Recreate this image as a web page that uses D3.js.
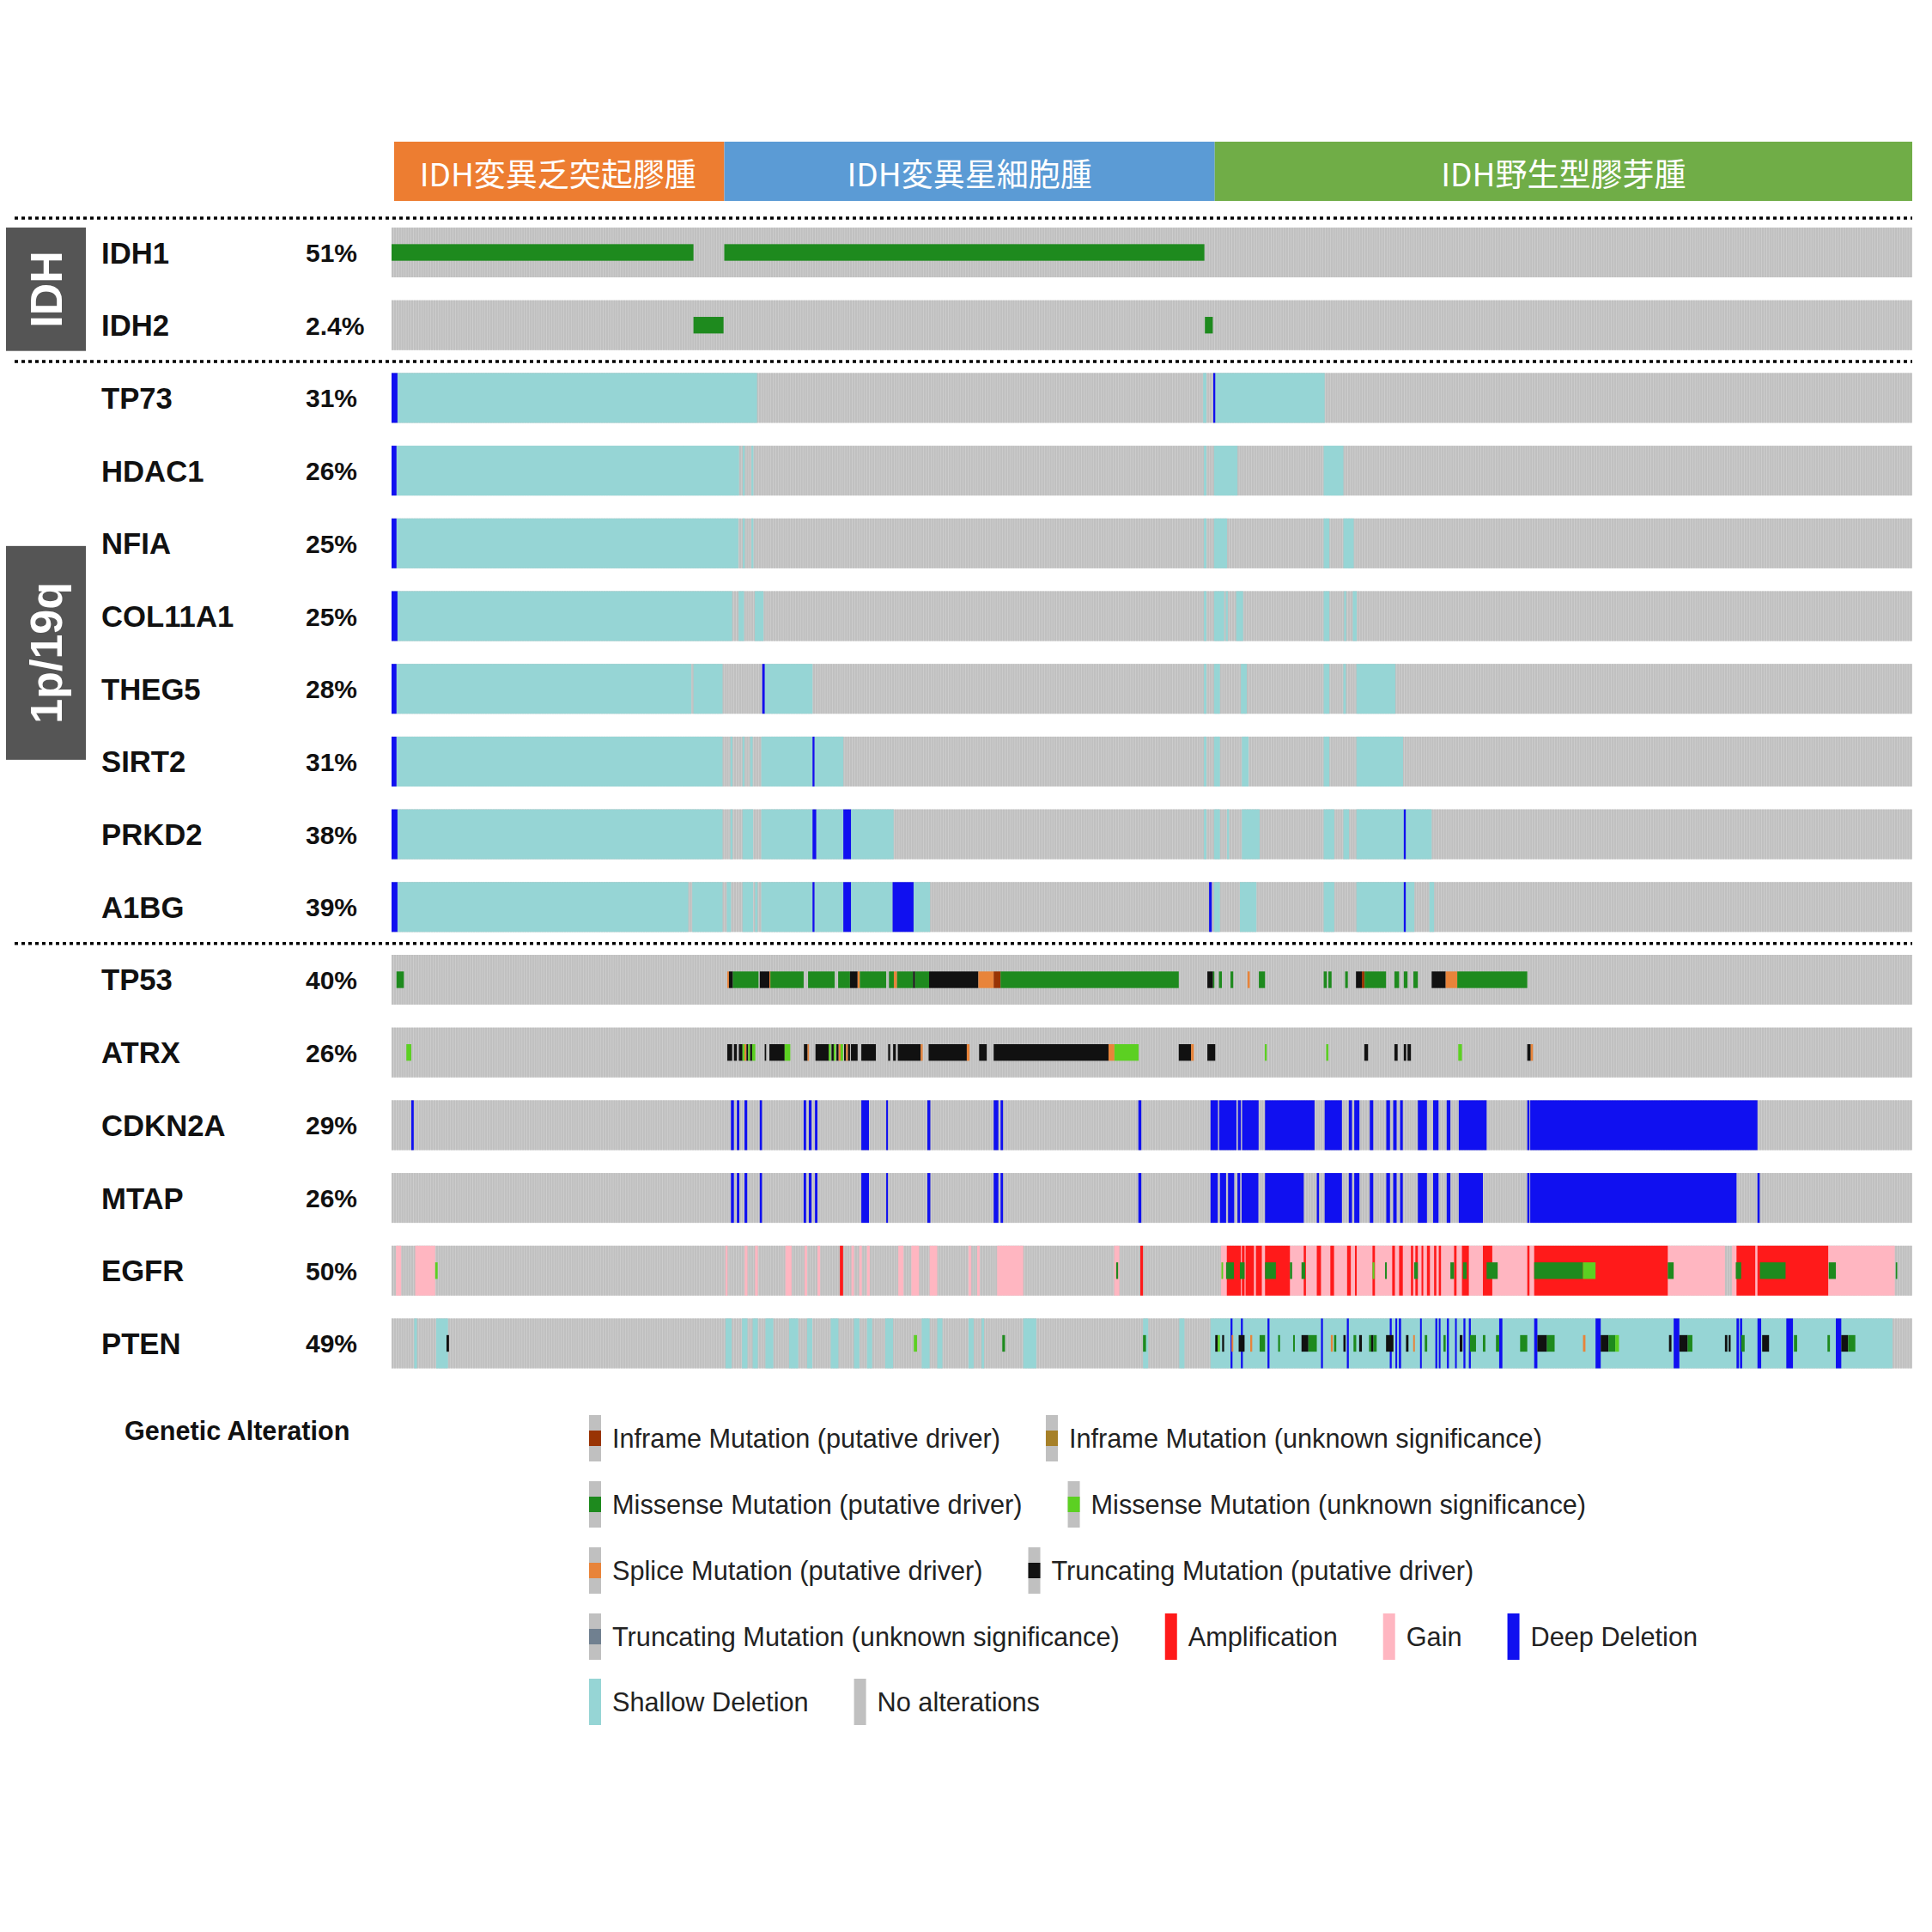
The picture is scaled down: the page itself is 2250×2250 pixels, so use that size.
<!DOCTYPE html>
<html><head><meta charset="utf-8">
<script src="https://cdn.jsdelivr.net/npm/d3@7"></script>
<style>body{margin:0;background:#fff}</style>
</head><body>
<svg id="chart" width="2250" height="2250"></svg>
<script>
// ---------------- DATA ----------------
const nSamples = 617;
const groupNames = ['IDH変異乏突起膠腫', 'IDH変異星細胞腫', 'IDH野生型膠芽腫'];
const groupStarts = [0, 135, 334];
const groupEnds = [135, 334, 617];

const genes = ['IDH1','IDH2','TP73','HDAC1','NFIA','COL11A1','THEG5','SIRT2','PRKD2','A1BG','TP53','ATRX','CDKN2A','MTAP','EGFR','PTEN'];
const pctLabels = ['51%','2.4%','31%','26%','25%','25%','28%','31%','38%','39%','40%','26%','29%','26%','50%','49%'];

const sectionNames = ['IDH', '1p/19q', ''];
const sectionFirst = ['IDH1', 'TP73', 'TP53'];
const sectionLast = ['IDH2', 'A1BG', 'PTEN'];

// alteration segments: [firstSample, endSample, type]
const altIDH1 = [[0,122.5,'mis'],[135,329.8,'mis']];
const altIDH2 = [[122.5,134.7,'mis'],[330,333.2,'mis']];
const altTP73 = [[0,2.4,'deep'],[2.4,148.3,'shal'],[329.3,330.6,'shal'],[333.4,334.2,'deep'],[334.2,378.6,'shal']];
const altHDAC1 = [[0,2,'deep'],[2,141,'shal'],[142.5,143.3,'shal'],[146,146.8,'shal'],[329.6,330.6,'shal'],[333.7,343.2,'shal'],[378.2,386.2,'shal']];
const altNFIA = [[0,2,'deep'],[2,140.7,'shal'],[142.5,143.3,'shal'],[146,146.8,'shal'],[329.6,330.6,'shal'],[333.7,339,'shal'],[378.2,380.5,'shal'],[386.2,390.4,'shal']];
const altCOL11A1 = [[0,2.4,'deep'],[2.4,138.2,'shal'],[140.8,143,'shal'],[147.4,150.9,'shal'],[329.6,330.6,'shal'],[333.7,337.8,'shal'],[338.5,339.3,'shal'],[342.7,345.5,'shal'],[378.2,380.5,'shal'],[386.5,387.3,'shal'],[390,391.6,'shal']];
const altTHEG5 = [[0,2,'deep'],[2,121.6,'shal'],[122.5,134.3,'shal'],[150.4,151.4,'deep'],[151.4,170.8,'shal'],[329.6,330.6,'shal'],[333.7,336.1,'shal'],[344.6,347,'shal'],[378.2,380.5,'shal'],[386.2,387.2,'shal'],[391.5,407.3,'shal']];
const altSIRT2 = [[0,2,'deep'],[2,134.3,'shal'],[137.5,138.3,'shal'],[142.4,143.2,'shal'],[145.5,146.5,'shal'],[150,170.8,'shal'],[170.8,171.6,'deep'],[171.6,183.3,'shal'],[329.6,330.6,'shal'],[333.7,336.1,'shal'],[345,347.7,'shal'],[378.2,380.5,'shal'],[391.5,410.4,'shal']];
const altPRKD2 = [[0,2.4,'deep'],[2.4,134.3,'shal'],[137.5,138.3,'shal'],[142.4,146.7,'shal'],[150,170.8,'shal'],[170.8,172.3,'deep'],[172.3,183.3,'shal'],[183.3,186.4,'deep'],[186.4,203.7,'shal'],[329.6,330.6,'shal'],[333.7,336.1,'shal'],[339,339.8,'shal'],[345,352.2,'shal'],[378.2,382.5,'shal'],[386.2,388.5,'shal'],[391.5,410.7,'shal'],[410.7,411.5,'deep'],[411.5,422,'shal']];
const altA1BG = [[0,2.4,'deep'],[2.4,120.4,'shal'],[122,134.3,'shal'],[136,137.7,'shal'],[142.4,146.7,'shal'],[147.5,148.5,'shal'],[150,170.8,'shal'],[170.8,171.6,'deep'],[171.6,183.3,'shal'],[183.3,186.4,'deep'],[186.4,203.3,'shal'],[203.3,211.8,'deep'],[211.8,218.5,'shal'],[331.7,332.8,'deep'],[333.7,336.1,'shal'],[344.2,350.9,'shal'],[378.2,382.5,'shal'],[391.5,410.7,'shal'],[410.7,411.5,'deep'],[411.5,415,'shal'],[421.1,423,'shal']];
const altTP53 = [[2,5,'mis'],
 [136.2,136.9,'spl'],[136.9,138.5,'trc'],[138.5,148.9,'mis'],[149.4,153.3,'trc'],[153.3,153.7,'spl'],[153.7,167.2,'mis'],[169,179.8,'mis'],[181.2,186,'mis'],[186,189.1,'trc'],[189.1,190,'spl'],[190,200.7,'mis'],[201.8,203.8,'mis'],[203.8,205.1,'spl'],[205.1,211.6,'mis'],[211.6,212.4,'trc'],[212.4,218.1,'mis'],[218.1,238.1,'trc'],[238.1,244.3,'spl'],[244.3,247.1,'inf'],[247.1,319.4,'mis'],
 [331,333.3,'trc'],[333.3,333.8,'mis'],[335.7,336.9,'mis'],[340.4,341.5,'mis'],[347.3,348.2,'spl'],[351.9,354.4,'mis'],
 [378.2,379.5,'mis'],[380.1,381.4,'mis'],[386.9,388,'mis'],[391.3,393.7,'trc'],[393.7,394.8,'inf'],[394.8,403.5,'mis'],[406.9,408.8,'mis'],[410.7,412.2,'mis'],[414.6,416.4,'mis'],[422,427.7,'trc'],[427.7,432.4,'spl'],[432.4,460.8,'mis']];
const altATRX = [[6,8,'misU'],
 [136.2,138.2,'trc'],[138.9,140.1,'trc'],[140.9,142.4,'trc'],[142.4,143.2,'misU'],[143.2,144,'spl'],[144,144.7,'trc'],[144.7,145.5,'misU'],[145.5,146.3,'trc'],[146.3,147.6,'misU'],
 [151.4,152,'trc'],[153.3,159.5,'trc'],[159.5,161.8,'misU'],[167.3,168.8,'trc'],[168.8,169.3,'spl'],
 [172,177.4,'trc'],[177.4,178.2,'misU'],[178.5,179.4,'trc'],[179.4,180.2,'misU'],[180.5,181.4,'trc'],[181.4,182.2,'spl'],[182.2,183.2,'misU'],[183.6,184.4,'trc'],[184.4,185.2,'spl'],[185.2,186,'trc'],[186.4,189.1,'trc'],
 [190.6,196.5,'trc'],[201.5,202.3,'trc'],[203.5,204.6,'trc'],[205.4,214.7,'trc'],[214.7,215.5,'spl'],
 [217.9,233.4,'trc'],[233.4,234.5,'spl'],[238.4,241.5,'trc'],[244.3,290.9,'trc'],[290.9,293.3,'spl'],[293.3,303.1,'misU'],
 [319.4,324.4,'trc'],[324.4,325.5,'spl'],[331,334.2,'trc'],[354.3,355.1,'misU'],
 [379.2,380.1,'misU'],[394.7,396.2,'trc'],[406.9,408.2,'trc'],[410.7,411.7,'trc'],[412.2,413.6,'trc'],[432.8,434.3,'misU'],[460.8,462.2,'trc'],[462.2,463.1,'spl']];
const altCDKN2A = [[8,9,'deep'],
 [137.7,138.9,'deep'],[140.1,141.1,'deep'],[143.2,144.3,'deep'],[149.4,150.3,'deep'],[167.2,168.2,'deep'],[169.3,170.4,'deep'],[171.8,172.8,'deep'],[190.6,193.7,'deep'],[200.7,201.4,'deep'],[217.4,218.6,'deep'],[244.3,246.2,'deep'],[247.1,248.1,'deep'],[303,304.2,'deep'],
 [332.3,335.3,'deep'],[335.8,342.8,'deep'],[343.4,344.6,'deep'],[345.1,351.8,'deep'],[354.4,374.5,'deep'],[378.6,385.6,'deep'],[388.4,389.7,'deep'],[390.6,392.7,'deep'],[396.9,398.3,'deep'],[403.6,405.1,'deep'],[406.4,407.8,'deep'],[409.2,410.3,'deep'],[416.4,420.1,'deep'],[422.6,424.8,'deep'],[428.1,429.6,'deep'],[433,444.3,'deep'],[460.8,461.7,'deep'],[462,554.2,'deep']];
const altMTAP = [
 [137.7,138.9,'deep'],[140.1,141.1,'deep'],[143.2,144.3,'deep'],[149.4,150.3,'deep'],[167.2,168.2,'deep'],[169.3,170.4,'deep'],[171.8,172.8,'deep'],[190.6,193.7,'deep'],[200.7,201.4,'deep'],[217.4,218.6,'deep'],[244.3,246.2,'deep'],[247.1,248.1,'deep'],[303,304.2,'deep'],
 [332.3,335.2,'deep'],[336.1,338.6,'deep'],[339.4,341.9,'deep'],[343.2,344.3,'deep'],[344.9,351.7,'deep'],[354.4,370.1,'deep'],[375.4,376.3,'deep'],[378.6,385.6,'deep'],[388.4,389.7,'deep'],[390.6,392.7,'deep'],[396.9,398.3,'deep'],[403.6,405.1,'deep'],[406.4,407.8,'deep'],[409.2,410.3,'deep'],[416.4,420.1,'deep'],[422.6,424.8,'deep'],[428.1,429.6,'deep'],[433,442.8,'deep'],[460.8,461.7,'deep'],[462,545.7,'deep'],[554.2,555.1,'deep']];
const altEGFR = [[1.8,3.9,'gain'],[9.6,17.7,'gain'],
 [135.5,136.3,'gain'],[143.3,144.4,'gain'],[147.5,148.6,'gain'],[159.8,162.3,'gain'],[167.6,168.6,'gain'],[172.8,173.9,'gain'],[181.9,183.2,'amp'],[186.6,187.6,'gain'],[189.8,190.8,'gain'],[192.9,194,'gain'],[205.6,207.7,'gain'],[210.9,214,'gain'],[218.3,221.4,'gain'],[234.1,235.2,'gain'],[237.6,238.6,'gain'],[245.7,256.3,'gain'],[293.2,295.3,'gain'],[303.8,304.9,'amp'],
 [336.5,541,'gain'],[543.8,609.9,'gain'],
 [338.9,344.6,'amp'],[345,346.1,'amp'],[346.5,349.9,'amp'],[350.7,353.1,'amp'],[354.4,364.5,'amp'],[370.1,371,'amp'],[375.4,377.1,'amp'],[380.9,382.4,'amp'],[387.7,389.2,'amp'],[390.9,391.6,'amp'],[398,399,'amp'],[406,407.1,'amp'],[408.8,410.3,'amp'],[413.6,414.5,'amp'],[415.4,416.4,'amp'],[417.9,418.6,'amp'],[420.1,421.3,'amp'],[423,423.9,'amp'],[424.9,425.8,'amp'],[431.1,432.1,'amp'],[434.3,437.1,'amp'],[442.8,446.6,'amp'],[460.8,461.7,'amp'],[463.6,517.8,'amp'],[545.7,553.3,'amp'],[554.2,582.9,'amp'],
 [17.7,18.7,'misU'],[294,294.8,'mis'],
 [336.7,337.4,'misU'],[338.6,341.8,'mis'],[344.2,346.1,'mis'],[354.4,358.8,'mis'],[364.5,365.4,'mis'],[369.2,370.7,'mis'],[398,398.8,'misU'],[403.1,403.8,'mis'],[414.9,416.4,'mis'],[429.6,431.1,'mis'],[434.7,436.2,'mis'],[444.3,448.8,'mis'],[463.6,483.4,'mis'],[483.4,488.5,'misU'],[517.8,520.2,'mis'],[545.4,547.6,'mis'],[555.2,565.6,'mis'],[583.1,586,'mis'],[610.3,610.9,'mis']];
const altPTEN = [[9.2,10.3,'shal'],[18.1,22.9,'shal'],[22.3,23.3,'trc'],
 [135.5,138,'shal'],[142.2,144.4,'shal'],[146.5,148.6,'shal'],[151.7,154.9,'shal'],[161.3,165,'shal'],[168.6,170.7,'shal'],[178.2,181.3,'shal'],[187.6,189.8,'shal'],[192.9,195,'shal'],[200.3,203.5,'shal'],[215.1,218.3,'shal'],[221.4,223.5,'shal'],[234.1,236.2,'shal'],[239.4,240.4,'shal'],[256.3,261.6,'shal'],[304.9,307,'shal'],[319.6,321.7,'shal'],
 [211.9,213.2,'misU'],[247.8,248.9,'mis'],[304.9,306.1,'mis'],
 [332.3,609,'shal'],
 [340.4,341.2,'deep'],[344.6,345.4,'deep'],[355.4,356.2,'deep'],[377.1,377.9,'deep'],[387.6,388.4,'deep'],[405,405.8,'deep'],[407.3,408,'deep'],[408.7,409.6,'deep'],[417.3,418,'deep'],[423.5,424.3,'deep'],[424.9,425.6,'deep'],[428.2,429,'deep'],[431.5,432.2,'deep'],[434.9,435.7,'deep'],[437.1,437.9,'deep'],[449.4,450.7,'deep'],[463.6,464.9,'deep'],[488.5,490.6,'deep'],[520.2,522.5,'deep'],[545.7,546.7,'deep'],[547.1,548,'deep'],[554.2,555.7,'deep'],[565.9,568.6,'deep'],[586,588.2,'deep'],
 [334.2,335.2,'trc'],[335.2,336.1,'misU'],[337,337.8,'trc'],[340.8,341.5,'spl'],[343.7,346.1,'trc'],[348.4,349.2,'spl'],[352.2,354.4,'mis'],[359.7,360.5,'mis'],[365.8,366.5,'mis'],[369.2,372,'trc'],[372,375.4,'mis'],[381.1,381.9,'spl'],[382.4,383.3,'mis'],[386.2,387.1,'trc'],[390.3,391.4,'mis'],[392.6,393.7,'trc'],[396.6,397.5,'mis'],[397.5,398.4,'trc'],[398.4,399.7,'mis'],[403.5,406.5,'trc'],[411.6,412.6,'trc'],[414.5,415.2,'spl'],[419.2,420.2,'mis'],[426.8,427.7,'mis'],[433.4,434.5,'trc'],[437.5,440,'mis'],[442.8,443.8,'mis'],[448.1,449.4,'mis'],[457.9,460.8,'mis'],[464.9,468.8,'trc'],[468.8,471.9,'mis'],[483.4,484.4,'spl'],[490.6,493.8,'trc'],[493.8,496.5,'mis'],[496.5,498,'misU'],[518.3,519.3,'trc'],[522.5,525.9,'trc'],[525.9,527.8,'mis'],[541,542,'trc'],[542.5,543.3,'trc'],[547.6,549,'mis'],[556.1,558.9,'trc'],[569,570.3,'mis'],[582.6,583.6,'mis'],[588.2,591,'trc'],[591,593.9,'mis']];

const legendKeys = ['inf','infU','mis','misU','spl','trc','trcU','amp','gain','deep','shal','none'];
const legendLabels = ['Inframe Mutation (putative driver)','Inframe Mutation (unknown significance)','Missense Mutation (putative driver)','Missense Mutation (unknown significance)','Splice Mutation (putative driver)','Truncating Mutation (putative driver)','Truncating Mutation (unknown significance)','Amplification','Gain','Deep Deletion','Shallow Deletion','No alterations'];
const legendTitle = 'Genetic Alteration';

// ---------------- STYLE / LAYOUT ----------------
const geneAlts = [altIDH1, altIDH2, altTP73, altHDAC1, altNFIA, altCOL11A1, altTHEG5, altSIRT2, altPRKD2, altA1BG, altTP53, altATRX, altCDKN2A, altMTAP, altEGFR, altPTEN];
const colors = {none:'#C0C0C0', shal:'#96D5D5', deep:'#1010F0', amp:'#FF1A1A', gain:'#FFB6C1',
  mis:'#1E8A1E', misU:'#5CD022', inf:'#993404', infU:'#A68028', spl:'#E8843A', trc:'#111111', trcU:'#708090'};
const groupColors = ['#ED7D31', '#5B9BD5', '#70AD47'];
const cnaTypes = new Set(['shal','deep','amp','gain','none']);

const svg = d3.select('#chart');
const x = d3.scaleLinear().domain([0, nSamples]).range([456, 2227]);
const y = d3.scaleBand().domain(genes).range([265, 1593.5]).paddingInner(0.3152).paddingOuter(0);
const bw = y.bandwidth();
const step = x(1) - x(0);

// header bars
const hdr = svg.append('g');
groupNames.forEach((g, i) => {
  hdr.append('rect').attr('x', x(groupStarts[i]) + (i === 0 ? 3 : 0)).attr('y', 165)
    .attr('width', x(groupEnds[i]) - x(groupStarts[i]) - (i === 0 ? 3 : 0)).attr('height', 69)
    .attr('fill', groupColors[i]);
  hdr.append('text').attr('x', (x(groupStarts[i]) + x(groupEnds[i])) / 2).attr('y', 201)
    .attr('text-anchor', 'middle').attr('dominant-baseline', 'central')
    .attr('font-family', '"Noto Sans CJK JP", "Noto Sans CJK TC", sans-serif')
    .attr('font-size', 37).attr('fill', '#fff').text(g);
});

// tracks
const tracks = svg.append('g');
genes.forEach((gene, gi) => {
  const top = y(gene);
  const row = tracks.append('g');
  row.append('rect').attr('x', x(0)).attr('y', top).attr('width', x(nSamples) - x(0)).attr('height', bw).attr('fill', '#D4D4D4');
  row.selectAll('rect.s').data(d3.range(nSamples)).join('rect').attr('class', 's')
    .attr('x', d => x(d)).attr('y', top).attr('width', step * 0.8).attr('height', bw).attr('fill', colors.none);
  const segs = geneAlts[gi];
  const cna = segs.filter(s => cnaTypes.has(s[2]));
  const muts = segs.filter(s => !cnaTypes.has(s[2]));
  // gains/shallow first, then amp/deep on top
  const order = {gain:0, shal:0, amp:1, deep:1};
  cna.sort((a, b) => order[a[2]] - order[b[2]]);
  row.selectAll('rect.c').data(cna).join('rect').attr('class', 'c')
    .attr('x', d => x(d[0])).attr('y', top).attr('width', d => Math.max(1.6, x(d[1]) - x(d[0])))
    .attr('height', bw).attr('fill', d => colors[d[2]]);
  row.selectAll('rect.m').data(muts).join('rect').attr('class', 'm')
    .attr('x', d => x(d[0])).attr('y', top + bw / 3).attr('width', d => Math.max(1.6, x(d[1]) - x(d[0])))
    .attr('height', bw / 3).attr('fill', d => colors[d[2]]);
  // labels
  svg.append('text').attr('x', 118).attr('y', top + bw / 2 + 12.5)
    .attr('font-family', '"Liberation Sans", Arial, sans-serif').attr('font-weight', 'bold')
    .attr('font-size', 34.7).attr('fill', '#111').text(gene);
  svg.append('text').attr('x', 356).attr('y', top + bw / 2 + 11)
    .attr('font-family', '"Liberation Sans", Arial, sans-serif').attr('font-weight', 'bold')
    .attr('font-size', 30).attr('fill', '#111').text(pctLabels[gi]);
});

// dotted separators
const sepYs = [y(genes[0]) - 11];
for (let i = 1; i < sectionFirst.length; i++) {
  const prevBottom = y(sectionLast[i - 1]) + bw;
  const nextTop = y(sectionFirst[i]);
  sepYs.push((prevBottom + nextTop) / 2);
}
svg.append('g').selectAll('line').data(sepYs).join('line')
  .attr('x1', 17).attr('x2', x(nSamples)).attr('y1', d => d).attr('y2', d => d)
  .attr('stroke', '#000').attr('stroke-width', 3.5).attr('stroke-dasharray', '4 4');

// section boxes
const boxHeights = [null, 249];
sectionNames.forEach((name, i) => {
  if (!name) return;
  const y0 = y(sectionFirst[i]);
  const y1 = y(sectionLast[i]) + bw + 1;
  let top = y0, h = y1 - y0;
  if (boxHeights[i]) { const c = (y0 + y1) / 2; top = c - boxHeights[i] / 2; h = boxHeights[i]; }
  svg.append('rect').attr('x', 7).attr('y', top).attr('width', 93).attr('height', h).attr('fill', '#555555');
  svg.append('text').attr('transform', `translate(53.5,${top + h / 2}) rotate(-90)`)
    .attr('text-anchor', 'middle').attr('dy', '0.36em')
    .attr('font-family', '"Liberation Sans", Arial, sans-serif').attr('font-weight', 'bold')
    .attr('font-size', 52).attr('fill', '#fff').text(name);
});

// legend
const lg = svg.append('g');
lg.append('text').attr('x', 145).attr('y', 1677)
  .attr('font-family', '"Liberation Sans", Arial, sans-serif').attr('font-weight', 'bold')
  .attr('font-size', 30.6).attr('fill', '#111').text(legendTitle);
const legendRowOf = [0,0,1,1,2,2,3,3,3,3,4,4];
const rowCenters = [1675, 1752, 1829, 1906, 1982];
const rowCursor = [686, 686, 686, 686, 686];
legendKeys.forEach((k, i) => {
  const r = legendRowOf[i];
  const sx = rowCursor[r];
  const cy = rowCenters[r];
  const sh = 54, sw = 14;
  if (cnaTypes.has(k)) {
    lg.append('rect').attr('x', sx).attr('y', cy - sh / 2).attr('width', sw).attr('height', sh).attr('fill', colors[k]);
  } else {
    lg.append('rect').attr('x', sx).attr('y', cy - sh / 2).attr('width', sw).attr('height', sh).attr('fill', colors.none);
    lg.append('rect').attr('x', sx).attr('y', cy - sh / 6).attr('width', sw).attr('height', sh / 3).attr('fill', colors[k]);
  }
  const t = lg.append('text').attr('x', sx + 27).attr('y', cy + 11)
    .attr('font-family', '"Liberation Sans", Arial, sans-serif').attr('font-size', 30.7)
    .attr('fill', '#222').text(legendLabels[i]);
  rowCursor[r] = sx + 27 + t.node().getComputedTextLength() + 53;
});
</script>
</body></html>
